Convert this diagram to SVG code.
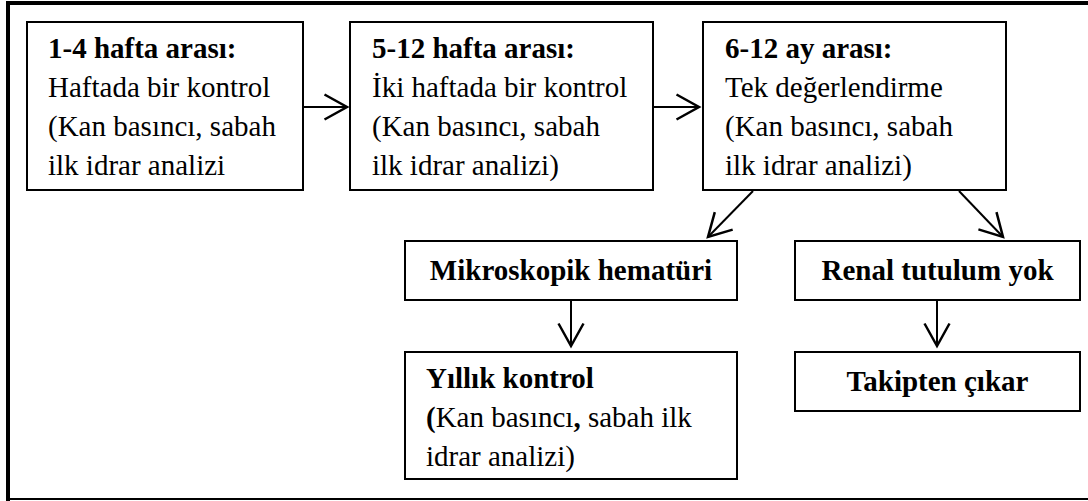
<svg xmlns="http://www.w3.org/2000/svg" width="1088" height="501" viewBox="0 0 1088 501">
<style>
text{font-family:'Liberation Serif','Times New Roman','DejaVu Serif',serif;font-size:29px;fill:#000}
.box{fill:#fff;stroke:#000;stroke-width:2}
.b{font-weight:bold}
.c{text-anchor:middle}
.con{stroke:#000;stroke-width:2;fill:none}
</style>
<defs>
<marker id="arr" markerUnits="userSpaceOnUse" markerWidth="30" markerHeight="30" viewBox="-20 -12 22 24" refX="0" refY="0" orient="auto">
<path d="M-18,-10 L0,0 L-18,10" fill="none" stroke="#000" stroke-width="2"/>
</marker>
</defs>
<rect x="0" y="0" width="1088" height="501" fill="#fff"/>
<g id="frame">
<line x1="8" y1="1" x2="8" y2="501" stroke="#000" stroke-width="4"/>
<line x1="6" y1="3" x2="1088" y2="3" stroke="#000" stroke-width="4"/>
<line x1="6" y1="499" x2="1088" y2="499" stroke="#000" stroke-width="2"/>
</g>
<g id="connectors">
<line class="con" x1="303" y1="107" x2="347" y2="107" marker-end="url(#arr)"/>
<line class="con" x1="653" y1="107" x2="699" y2="107" marker-end="url(#arr)"/>
<line class="con" x1="753" y1="191" x2="708" y2="237" marker-end="url(#arr)"/>
<line class="con" x1="959" y1="191" x2="1003" y2="237" marker-end="url(#arr)"/>
<line class="con" x1="571" y1="300" x2="571" y2="346" marker-end="url(#arr)"/>
<line class="con" x1="937" y1="300" x2="937" y2="346" marker-end="url(#arr)"/>
</g>
<g id="n1">
<rect class="box" x="27" y="22" width="276" height="168"/>
<text class="b" x="48" y="58">1-4 hafta arası:</text>
<text x="48" y="97">Haftada bir kontrol</text>
<text x="48" y="136">(Kan basıncı, sabah</text>
<text x="48" y="175">ilk idrar analizi</text>
</g>
<g id="n2">
<rect class="box" x="350" y="22" width="303" height="168"/>
<text class="b" x="372" y="58">5-12 hafta arası:</text>
<text x="372" y="97">İki haftada bir kontrol</text>
<text x="372" y="136">(Kan basıncı, sabah</text>
<text x="372" y="175">ilk idrar analizi)</text>
</g>
<g id="n3">
<rect class="box" x="703" y="22" width="303" height="168"/>
<text class="b" x="725" y="58">6-12 ay arası:</text>
<text x="725" y="97">Tek değerlendirme</text>
<text x="725" y="136">(Kan basıncı, sabah</text>
<text x="725" y="175">ilk idrar analizi)</text>
</g>
<g id="n4">
<rect class="box" x="405" y="241" width="332" height="59"/>
<text class="b c" x="571" y="280">Mikroskopik hematüri</text>
</g>
<g id="n5">
<rect class="box" x="795" y="241" width="285" height="59"/>
<text class="b c" x="937.5" y="280">Renal tutulum yok</text>
</g>
<g id="n6">
<rect class="box" x="405" y="352" width="332" height="127"/>
<text class="b" x="426" y="388">Yıllık kontrol</text>
<text x="426" y="427"><tspan class="b">(</tspan>Kan basıncı<tspan class="b">,</tspan> sabah ilk</text>
<text x="426" y="466">idrar analizi)</text>
</g>
<g id="n7">
<rect class="box" x="795" y="352" width="285" height="59"/>
<text class="b c" x="937.5" y="391">Takipten çıkar</text>
</g>
</svg>
